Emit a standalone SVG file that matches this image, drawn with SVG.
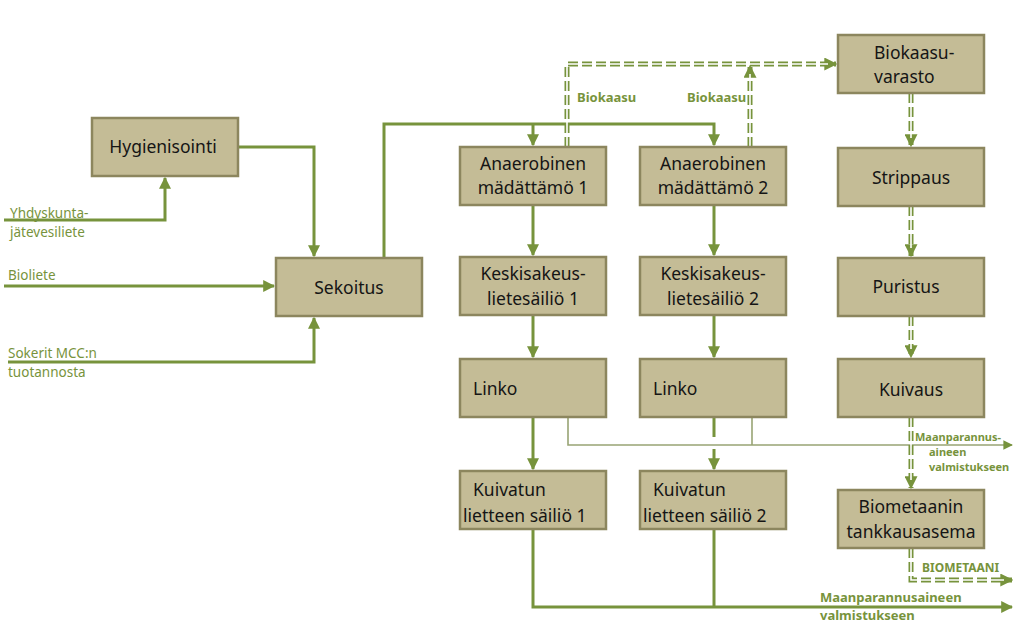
<svg xmlns="http://www.w3.org/2000/svg" width="1024" height="625" viewBox="0 0 1024 625">
<style>
.box{fill:#c4bc96;stroke:#8c865e;stroke-width:2.5}
.t{font-family:"Noto Sans","Open Sans",sans-serif;font-size:17.5px;fill:#151515}
.c{text-anchor:middle}
.line{fill:none;stroke:#77933c;stroke-width:3}
.thin{fill:none;stroke:#98a474;stroke-width:1.6}
.dg{fill:none;stroke:#77933c;stroke-width:5;stroke-dasharray:10 4}
.dw{fill:none;stroke:#fff;stroke-width:1.6}
.lab{font-family:"Noto Sans","Open Sans",sans-serif;font-size:13.5px;fill:#77933c}
.lb{font-family:"Noto Sans","Open Sans",sans-serif;font-size:13px;font-weight:bold;fill:#77933c}
.ls{font-family:"Noto Sans","Open Sans",sans-serif;font-size:11px;font-weight:bold;fill:#77933c}
</style>
<defs>
<marker id="a" viewBox="0 0 10 10" refX="9" refY="5" markerWidth="4" markerHeight="4" orient="auto" markerUnits="strokeWidth"><path d="M0,0L10,5L0,10z" fill="#77933c"/></marker>
<marker id="ad" viewBox="0 0 10 10" refX="9" refY="5" markerWidth="2.6" markerHeight="2.6" orient="auto" markerUnits="strokeWidth"><path d="M0,0L10,5L0,10z" fill="#77933c"/></marker>
<marker id="at" viewBox="0 0 10 10" refX="9" refY="5" markerWidth="6" markerHeight="6" orient="auto" markerUnits="strokeWidth"><path d="M0,0L10,5L0,10z" fill="#77933c"/></marker>
</defs>
<rect width="1024" height="625" fill="#fff"/>
<g id="connectors">
<path class="line" d="M238,147H314V256" marker-end="url(#a)"/>
<path class="line" d="M4,220H165V178" marker-end="url(#a)"/>
<path class="line" d="M4,286H274" marker-end="url(#a)"/>
<path class="line" d="M8,362H314V318" marker-end="url(#a)"/>
<path class="line" d="M384,258V124H714V145" marker-end="url(#a)"/>
<path class="line" d="M533,124V145" marker-end="url(#a)"/>
<path class="line" d="M533,205V255" marker-end="url(#a)"/>
<path class="line" d="M714,205V255" marker-end="url(#a)"/>
<path class="line" d="M533,315V357" marker-end="url(#a)"/>
<path class="line" d="M714,315V357" marker-end="url(#a)"/>
<path class="line" d="M533,417V469" marker-end="url(#a)"/>
<path class="line" d="M714,417V437M714,449V469" marker-end="url(#a)"/>
<path class="thin" d="M568,417V445H1012" marker-end="url(#at)"/>
<path class="thin" d="M752,417V445"/>
<path class="line" d="M533,529V607H1012" marker-end="url(#a)"/>
<path class="line" d="M714,529V607"/>
<g id="gas">
<path class="dg" d="M567,147V64H836" marker-end="url(#ad)"/>
<path class="dw" d="M567,147V64H828"/>
<path class="dg" d="M750,147V66" marker-end="url(#ad)"/>
<path class="dw" d="M750,147V74"/>
<path class="dg" d="M911,93V146" marker-end="url(#ad)"/>
<path class="dw" d="M911,93V138"/>
<path class="dg" d="M911,206V256" marker-end="url(#ad)"/>
<path class="dw" d="M911,206V248"/>
<path class="dg" d="M911,316V357" marker-end="url(#ad)"/>
<path class="dw" d="M911,316V349"/>
<path class="dg" d="M911,417V488" marker-end="url(#ad)"/>
<path class="dw" d="M911,417V480"/>
<path class="dg" d="M911,548V580H1012" marker-end="url(#ad)"/>
<path class="dw" d="M911,548V580H1004"/>
</g>
</g>
<g id="labels">
<text class="lab" x="10" y="218">Yhdyskunta-</text>
<text class="lab" x="10" y="237">jätevesiliete</text>
<text class="lab" x="8" y="280">Bioliete</text>
<text class="lab" x="8" y="358">Sokerit MCC:n</text>
<text class="lab" x="8" y="377">tuotannosta</text>
<text class="lb" x="577" y="102">Biokaasu</text>
<text class="lb" x="687" y="102">Biokaasu</text>
<text class="ls" x="915" y="441">Maanparannus-</text>
<text class="ls" x="929" y="456">aineen</text>
<text class="ls" x="929" y="471">valmistukseen</text>
<text class="ls" x="922" y="572" style="font-size:12px">BIOMETAANI</text>
<text class="lb" x="820" y="602">Maanparannusaineen</text>
<text class="lb" x="820" y="620">valmistukseen</text>
</g>
<g id="hyg"><rect class="box" x="92" y="118" width="146" height="58"/><text class="t c" x="163" y="153">Hygienisointi</text></g>
<g id="sek"><rect class="box" x="276" y="258" width="146" height="58"/><text class="t c" x="349" y="294">Sekoitus</text></g>
<g id="an1"><rect class="box" x="460" y="147" width="146" height="58"/><text class="t c" x="533" y="170">Anaerobinen</text><text class="t c" x="533" y="194">mädättämö 1</text></g>
<g id="an2"><rect class="box" x="640" y="147" width="146" height="58"/><text class="t c" x="713" y="170">Anaerobinen</text><text class="t c" x="713" y="194">mädättämö 2</text></g>
<g id="ks1"><rect class="box" x="460" y="257" width="146" height="58"/><text class="t c" x="533" y="280">Keskisakeus-</text><text class="t c" x="533" y="305">lietesäiliö 1</text></g>
<g id="ks2"><rect class="box" x="640" y="257" width="146" height="58"/><text class="t c" x="713" y="280">Keskisakeus-</text><text class="t c" x="713" y="305">lietesäiliö 2</text></g>
<g id="li1"><rect class="box" x="460" y="359" width="146" height="58"/><text class="t" x="473" y="395">Linko</text></g>
<g id="li2"><rect class="box" x="640" y="359" width="146" height="58"/><text class="t" x="653" y="395">Linko</text></g>
<g id="ku1"><rect class="box" x="460" y="471" width="146" height="58"/><text class="t" x="473" y="496">Kuivatun</text><text class="t" x="463" y="522">lietteen säiliö 1</text></g>
<g id="ku2"><rect class="box" x="640" y="471" width="146" height="58"/><text class="t" x="653" y="496">Kuivatun</text><text class="t" x="643" y="522">lietteen säiliö 2</text></g>
<g id="bv"><rect class="box" x="838" y="35" width="146" height="58"/><text class="t" x="874" y="59">Biokaasu-</text><text class="t" x="874" y="83">varasto</text></g>
<g id="str"><rect class="box" x="838" y="148" width="146" height="58"/><text class="t c" x="911" y="184">Strippaus</text></g>
<g id="pur"><rect class="box" x="838" y="258" width="146" height="58"/><text class="t c" x="906" y="293">Puristus</text></g>
<g id="kui"><rect class="box" x="838" y="359" width="146" height="58"/><text class="t c" x="911" y="396">Kuivaus</text></g>
<g id="bm"><rect class="box" x="838" y="490" width="146" height="58"/><text class="t c" x="911" y="513">Biometaanin</text><text class="t c" x="911" y="538">tankkausasema</text></g>
</svg>
